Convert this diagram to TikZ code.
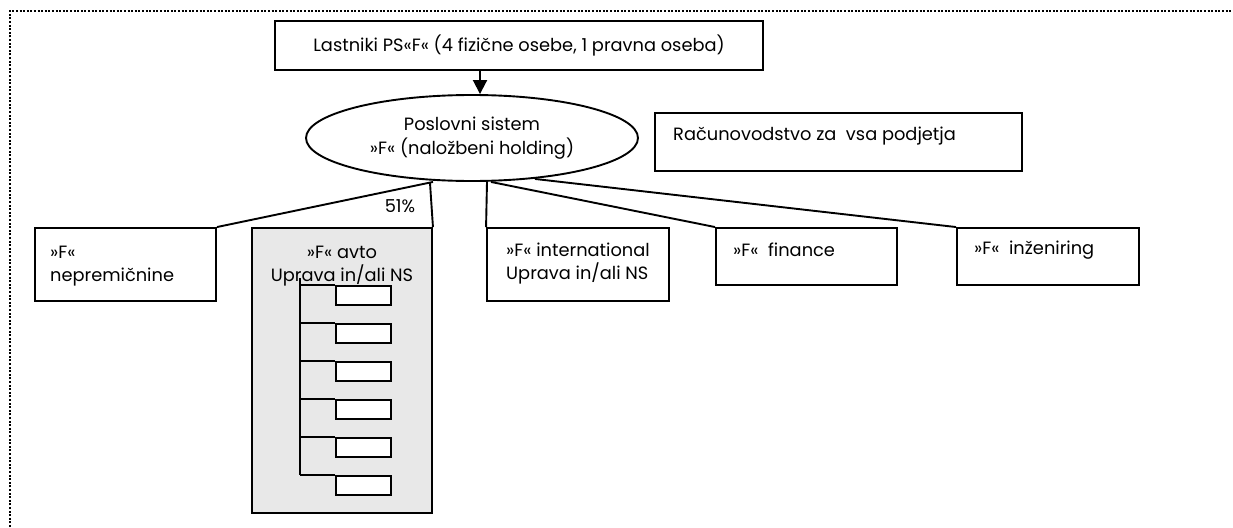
\documentclass[tikz,border=0pt]{standalone}
\usepackage{fontspec}
\setmainfont{Poppins}
\usetikzlibrary{shapes.geometric,arrows.meta,calc}
\definecolor{panelgray}{RGB}{232,232,232}
\begin{document}
\begin{tikzpicture}[x=1pt,y=-1pt,
  txt/.style={font=\fontsize{17.8}{21}\selectfont},
  box/.style={draw, line width=1.9pt, rectangle, inner sep=0pt},
  lbl/.style={txt, inner sep=0pt, anchor=west},
  clbl/.style={txt, inner sep=0pt},
  link/.style={line width=1.9pt},
  unit/.style={draw, line width=1.9pt, fill=white, minimum width=55pt, minimum height=19pt, inner sep=0pt}]
\useasboundingbox (0,0) rectangle (1233,527);

% dotted frame (top and left edges)
\draw[line width=2.2pt, dash pattern=on 2pt off 1.6pt] (10,527) -- (10,11) -- (1233,11);

% owners and holding
\node[box, txt, minimum width=488pt, minimum height=49pt] (owners) at (519,45.5)
  {Lastniki PS«F« (4 fizične osebe, 1 pravna oseba)};
\node[ellipse, draw, line width=1.9pt, minimum width=332pt, minimum height=86pt, inner sep=0pt,
  align=center, font=\fontsize{17.8}{24}\selectfont] (holding) at (472,138)
  {Poslovni sistem\\»F« (naložbeni holding)};
\coordinate (ax) at (480,0);
\draw[link, -{Triangle[width=14pt,length=14pt]}] (owners.south -| ax) -- (holding.north -| ax);

% accounting
\node[box, minimum width=367pt, minimum height=58pt] (acct) at (838.5,142) {};
\node[lbl] (acctlbl) at (673,136) {Računovodstvo za\ \ vsa podjetja};

% subsidiaries
\node[box, minimum width=181pt, minimum height=73pt] (nep) at (125.5,264.5) {};
\node[box, fill=panelgray, minimum width=180pt, minimum height=285pt] (avto) at (342,370.5) {};
\node[box, minimum width=182pt, minimum height=73pt] (intl) at (578,264.5) {};
\node[box, minimum width=181pt, minimum height=57pt] (fin) at (806.5,256.5) {};
\node[box, minimum width=182pt, minimum height=57pt] (inz) at (1048,256.5) {};

\node[lbl] (nep1) at (50,252) {»F«};
\node[lbl] (nep2) at (50,277) {nepremičnine};
\node[clbl] (avto1) at (342,252) {»F« avto};
\node[clbl] (avto2) at (342,275) {Uprava in/ali NS};
\node[lbl] (intl1) at (506,250) {»F« international};
\node[lbl] (intl2) at (506,273) {Uprava in/ali NS};
\node[lbl] (fin1) at (733,250) {»F«\ \ finance};
\node[lbl] (inz1) at (974,250) {»F«\ \ inženiring};

% connectors from the holding
\draw[link] ($(holding.south)+(-39,0)$) -- (nep.north east);
\draw[link] ($(holding.south)+(-42,1)$) -- (avto.north east);
\draw[link] ($(holding.south)+(15,0)$) -- (intl.north west);
\draw[link] ($(holding.south)+(19,0)$) -- (fin.north west);
\draw[link] ($(holding.south)+(63,-3)$) -- (inz.north west);
\node[clbl] (share) at (400,206) {51\%};

% internal units of »F« avto
\coordinate (treetop) at (300,278);
\foreach \k in {1,...,6} {
  \node[unit] (s\k) at (363.5,{295.5+38*(\k-1)}) {};
}
\draw[link] (treetop) -- (treetop |- s6.north west);
\foreach \k in {1,...,6} {
  \draw[link] (treetop |- s\k.north west) -- (s\k.north west);
}
\end{tikzpicture}
\end{document}
